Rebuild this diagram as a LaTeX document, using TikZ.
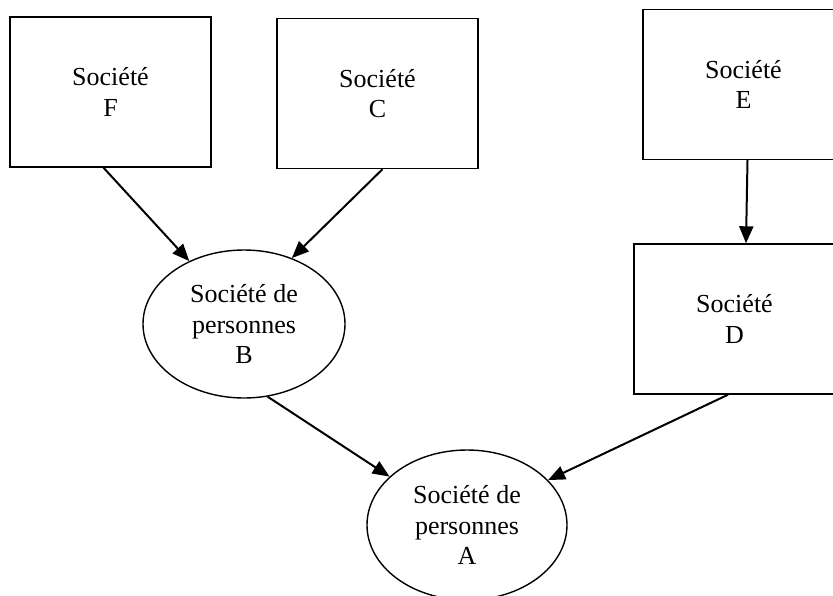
\documentclass[tikz,border=0pt]{standalone}
\usepackage{fontspec}
\setmainfont{Liberation Serif}
\usetikzlibrary{shapes.geometric,arrows.meta}
\begin{document}
\begin{tikzpicture}[x=1pt,y=-1pt,
  every node/.style={font=\fontsize{26}{30.5}\selectfont, align=center, inner sep=0pt},
  boxnode/.style={draw, line width=1.4pt, minimum width=201pt, minimum height=150pt},
  ellnode/.style={draw, ellipse, line width=1.4pt},
  link/.style={line width=2pt, -{Triangle[length=17pt,width=14pt]}}]
\useasboundingbox (0,0) rectangle (833,595);
\node[boxnode] (F) at (110.5,92) {Société\\F};
\node[boxnode] (C) at (377.5,93.5) {Société\\C};
\node[boxnode] (E) at (743.5,84.5) {Société\\E};
\node[boxnode] (D) at (734.5,319) {Société\\D};
\node[ellnode, minimum width=202pt, minimum height=148pt] (B) at (244,324) {Société de\\personnes\\B};
\node[ellnode, minimum width=200pt, minimum height=150pt] (A) at (467,525) {Société de\\personnes\\A};
\draw[link] ([xshift=-7pt]F.south) -- (B.131);
\draw[link] ([xshift=5pt]C.south) -- (B.54);
\draw[link] ([xshift=4pt]E.south) -- ([xshift=11.5pt]D.north);
\draw[link] (B.-72) -- (A.148);
\draw[link] ([xshift=-6.5pt]D.south) -- (A.29);
\end{tikzpicture}
\end{document}
